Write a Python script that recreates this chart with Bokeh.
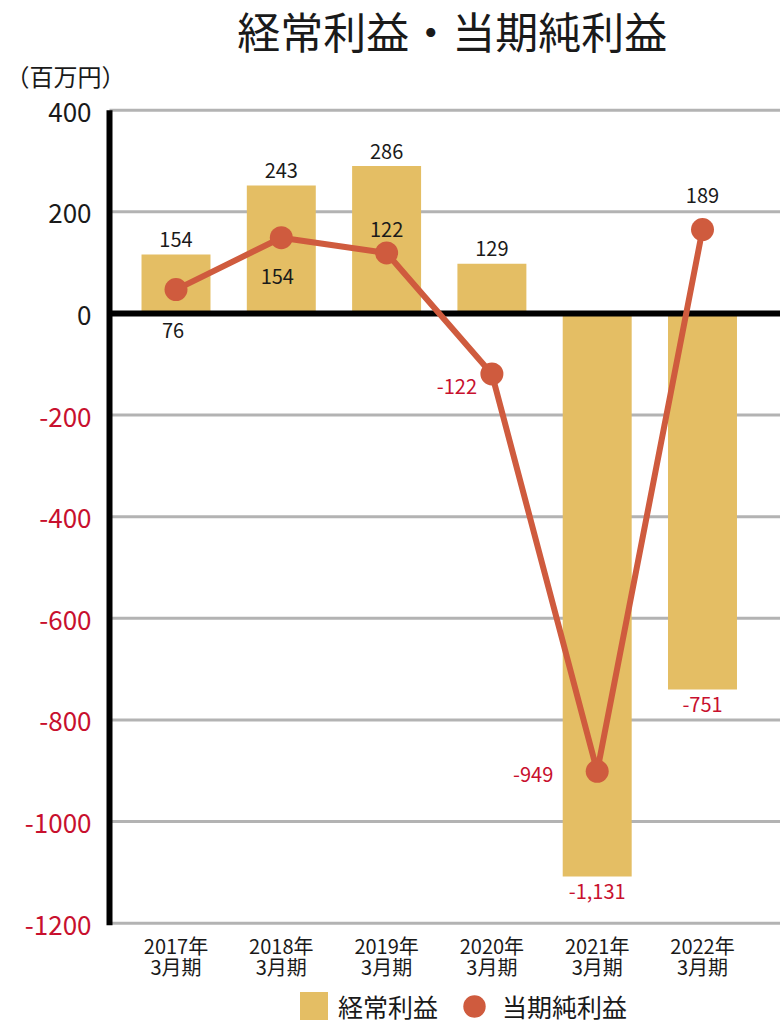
from bokeh.plotting import figure
from bokeh.models import (ColumnDataSource, Range1d, Label, Legend, LegendItem)
from bokeh.core.properties import value
from bokeh.embed import file_html
from bokeh.resources import INLINE

# ---------------- data ----------------
fiscal_years = ["2017年", "2018年", "2019年", "2020年", "2021年", "2022年"]
period_label = "3月期"
ordinary_profit = [116, 252, 290, 98, -1108, -740]          # bar heights as drawn
ordinary_labels = ["154", "243", "286", "129", "-1,131", "-751"]
net_profit = [47, 149, 119, -119, -901, 165]                 # line points as drawn
net_labels = ["76", "154", "122", "-122", "-949", "189"]
y_ticks = [400, 200, 0, -200, -400, -600, -800, -1000, -1200]
y_tick_labels = ["400", "200", "0", "-200", "-400", "-600", "-800", "-1000", "-1200"]
series_names = ["経常利益", "当期純利益"]
title_text = "経常利益・当期純利益"
unit_text = "（百万円）"

# ---------------- layout / style ----------------
W, H = 780, 1027
PX_PER_CAT = 105.3           # px between category centres
FIRST_CENTER_PX = 175.5      # px of first category centre
AXIS_PX = 109                # px of the vertical axis line
Y_AXIS_MAX, Y_AXIS_MIN = 400, -1200
TOP_PX, BOTTOM_PX = 109.7, 922.7   # px of 400 and -1200
PX_PER_Y = (BOTTOM_PX - TOP_PX) / (Y_AXIS_MAX - Y_AXIS_MIN)

X0 = -FIRST_CENTER_PX / PX_PER_CAT
X1 = (W - FIRST_CENTER_PX) / PX_PER_CAT
YTOP = Y_AXIS_MAX + TOP_PX / PX_PER_Y
YBOT = Y_AXIS_MIN - (H - BOTTOM_PX) / PX_PER_Y

def data_x(px):
    return X0 + px / PX_PER_CAT

def data_y(py):
    return YTOP - py / PX_PER_Y

BAR_COLOR = "#E4BE64"
LINE_COLOR = "#CF5B3E"
RED = "#C8102E"
BLACK = "#1A1A1A"
GRID = "#B3B3B3"
FONT = "Noto Sans CJK JP"

idx = list(range(len(fiscal_years)))
axis_x = data_x(AXIS_PX)

p = figure(width=W, height=H, x_range=Range1d(X0, X1), y_range=Range1d(YBOT, YTOP),
           output_backend="svg", toolbar_location=None, title=None,
           min_border=0, min_border_left=0, min_border_right=0,
           min_border_top=0, min_border_bottom=0)
p.outline_line_color = None
p.background_fill_color = "white"
p.axis.visible = False
p.grid.visible = False

# grid lines (from the axis to the right edge)
grid_src = ColumnDataSource(dict(y=[v for v in y_ticks if v != 0]))
p.segment(x0=axis_x, x1=X1, y0="y", y1="y", source=grid_src,
          line_color=GRID, line_width=3)

# bars
bar_src = ColumnDataSource(dict(
    x=idx, top=ordinary_profit, text=ordinary_labels,
    yoff=[-15 if v >= 0 else 15 for v in ordinary_profit],
    color=[BLACK if v >= 0 else RED for v in ordinary_profit]))
bars = p.vbar(x="x", top="top", bottom=0, width=0.655, source=bar_src,
              fill_color=BAR_COLOR, line_color=None)

# zero line and vertical axis line
p.segment(x0=axis_x, x1=X1, y0=0, y1=0, line_color="black", line_width=6)
p.segment(x0=axis_x, x1=axis_x, y0=Y_AXIS_MIN - 4, y1=Y_AXIS_MAX,
          line_color="black", line_width=6)

# net profit line
net_src = ColumnDataSource(dict(
    x=idx, y=net_profit, text=net_labels,
    xoff=[-3, -4, 0, -35, -64, 0],
    yoff=[41, 39, -23, 13, 3, -34],
    color=[BLACK if v >= 0 else RED for v in net_profit]))
p.line(x="x", y="y", source=net_src, line_color=LINE_COLOR, line_width=6)
dots = p.scatter(x="x", y="y", source=net_src, size=23, fill_color=LINE_COLOR,
                 line_color=None)

# data labels
p.text(x="x", y="top", text="text", source=bar_src, y_offset="yoff",
       text_align="center", text_baseline="middle", text_color="color",
       text_font=value(FONT), text_font_size="20px")
p.text(x="x", y="y", text="text", source=net_src, x_offset="xoff", y_offset="yoff",
       text_align="center", text_baseline="middle", text_color="color",
       text_font=value(FONT), text_font_size="20px")

# y tick labels (black for >= 0, red for negatives)
tick_src = ColumnDataSource(dict(
    y=y_ticks, text=y_tick_labels,
    color=[BLACK if v >= 0 else RED for v in y_ticks]))
p.text(x=data_x(91), y="y", text="text", source=tick_src, y_offset=2,
       text_align="right", text_baseline="middle", text_color="color",
       text_font=value(FONT), text_font_size="26px")

# x category labels (two rows)
cat_src = ColumnDataSource(dict(x=idx, year=fiscal_years,
                                period=[period_label] * len(idx)))
p.text(x="x", y=Y_AXIS_MIN, text="year", source=cat_src, y_offset=22,
       text_align="center", text_baseline="middle", text_color=BLACK,
       text_font=value(FONT), text_font_size="20px")
p.text(x="x", y=Y_AXIS_MIN, text="period", source=cat_src, y_offset=43,
       text_align="center", text_baseline="middle", text_color=BLACK,
       text_font=value(FONT), text_font_size="20px")

# title and unit
p.add_layout(Label(x=data_x(451.7), y=data_y(29), text=title_text,
                   text_align="center", text_baseline="middle",
                   text_font=FONT, text_font_size="43px", text_color=BLACK))
p.add_layout(Label(x=data_x(5), y=data_y(75), text=unit_text,
                   text_align="left", text_baseline="middle",
                   text_font=FONT, text_font_size="24px", text_color=BLACK))

# legends (two, so that the square and the circle get their own sizes)
LEG_CY = 1006
leg1 = Legend(items=[LegendItem(label=series_names[0], renderers=[bars])],
              location=(296, H - (LEG_CY + 17.5)),
              orientation="horizontal", glyph_width=35, glyph_height=35,
              label_standoff=7, padding=0, margin=0, spacing=0,
              background_fill_color=None, border_line_color=None,
              label_text_font=FONT, label_text_font_size="25px",
              label_text_color=BLACK)
leg2 = Legend(items=[LegendItem(label=series_names[1], renderers=[dots])],
              location=(446, H - (LEG_CY + 28)),
              orientation="horizontal", glyph_width=56, glyph_height=56,
              label_standoff=-8, padding=0, margin=0, spacing=0,
              background_fill_color=None, border_line_color=None,
              label_text_font=FONT, label_text_font_size="25px",
              label_text_color=BLACK)
p.add_layout(leg1)
p.add_layout(leg2)

open("out.html", "w").write(file_html(p, INLINE))
